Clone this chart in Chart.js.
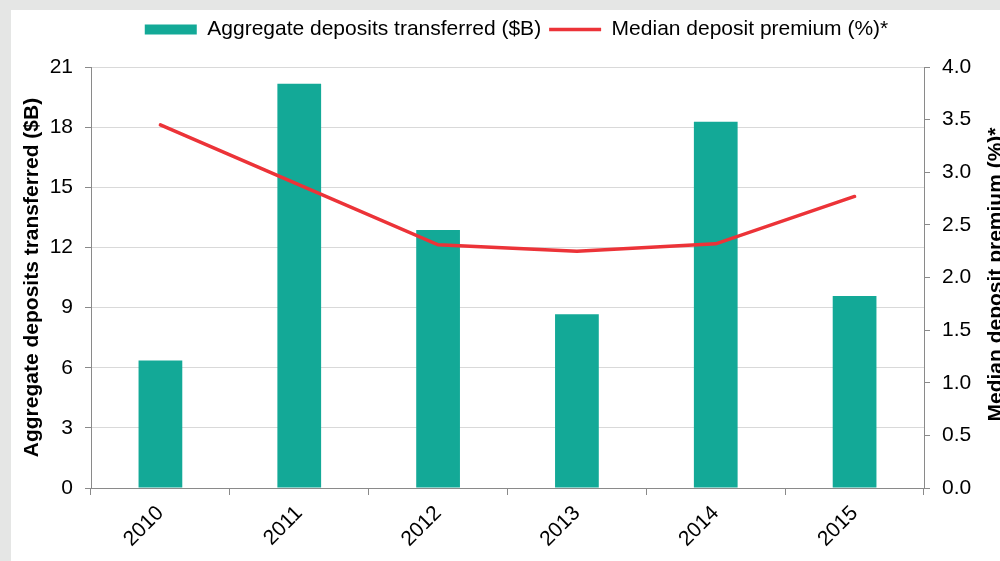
<!DOCTYPE html>
<html>
<head>
<meta charset="utf-8">
<script src="https://cdn.jsdelivr.net/npm/chart.js@4.4.0/dist/chart.umd.min.js"></script>
<style>
    html, body { margin: 0; padding: 0; overflow: hidden; }
    body { width: 1000px; height: 561px; background: #e5e6e5; position: relative; }
    #panel { position: absolute; left: 11px; top: 10px; width: 1011px; height: 560px; background: #fff; }
</style>
</head>
<body>
<div id="panel"><canvas id="graficoDepositos"></canvas></div>
<script>
const years = ["2010", "2011", "2012", "2013", "2014", "2015"];
const depositsTransferred = [6.36, 20.16, 12.87, 8.67, 18.27, 9.58];
const depositPremium = [3.45, 2.88, 2.31, 2.25, 2.32, 2.77];
const leftTicks = [0, 3, 6, 9, 12, 15, 18, 21];
const rightTicks = [0, 0.5, 1, 1.5, 2, 2.5, 3, 3.5, 4];

const teal = "#13a997";
const red = "#ec3338";
const axisGray = "#8a8a8a";

// right axis title reads bottom-to-top in the original, so draw it ourselves
const rightTitle = {
    id: "rightTitle",
    afterDraw: function(chart){
        const ctx = chart.ctx;
        const area = chart.chartArea;
        ctx.save();
        ctx.translate(area.right + 72, (area.top + area.bottom) / 2 - 3);
        ctx.rotate(-Math.PI / 2);
        ctx.font = "bold 21px 'Liberation Sans', Arial, sans-serif";
        ctx.fillStyle = "#000";
        ctx.textAlign = "center";
        ctx.textBaseline = "middle";
        ctx.fillText("Median deposit premium (%)*", 0, 0);
        ctx.restore();
    }
};

// extra room under the legend
const legendGap = {
    id: "legendGap",
    beforeInit: function(chart){
        const fit = chart.legend.fit;
        chart.legend.fit = function(){
            fit.bind(chart.legend)();
            this.height += 17;
        };
    }
};

Chart.defaults.font.family = "'Liberation Sans', Arial, sans-serif";
Chart.defaults.font.size = 21;
Chart.defaults.color = "#000";

const options = {
    responsive: true,
    maintainAspectRatio: false,
    animation: false,
    layout: {
        padding: { left: 0, right: 0, top: 1, bottom: 0 }
    },
    scales: {
        x: {
            grid: {
                offset: true,
                drawOnChartArea: false,
                tickLength: 7,
                tickColor: axisGray
            },
            border: { color: axisGray, width: 1 },
            ticks: {
                minRotation: 45,
                maxRotation: 45,
                padding: 6
            },
            afterFit: function(scale){ scale.height = 82; }
        },
        y: {
            position: "left",
            min: 0,
            max: 21,
            afterBuildTicks: function(scale){
                scale.ticks = leftTicks.map(v => ({ value: v }));
            },
            grid: {
                color: "#d9d9d9",
                lineWidth: 1,
                tickLength: 6,
                tickColor: axisGray
            },
            border: { color: axisGray, width: 1 },
            ticks: { padding: 12 },
            title: {
                display: true,
                text: "Aggregate deposits transferred ($B)",
                font: { weight: "bold", size: 21 },
                padding: { top: 9, bottom: 0 }
            },
            afterFit: function(scale){ scale.width = 80; }
        },
        y1: {
            position: "right",
            min: 0,
            max: 4,
            afterBuildTicks: function(scale){
                scale.ticks = rightTicks.map(v => ({ value: v }));
            },
            grid: {
                drawOnChartArea: false,
                tickLength: 6,
                tickColor: axisGray
            },
            border: { color: axisGray, width: 1 },
            ticks: {
                padding: 12,
                callback: function(value){ return Number(value).toFixed(1); }
            },
            afterFit: function(scale){ scale.width = 98; }
        }
    },
    plugins: {
        legend: {
            display: true,
            position: "top",
            labels: {
                usePointStyle: true,
                pointStyleWidth: 52,
                boxHeight: 10,
                padding: 8,
                sort: function(a, b){ return a.datasetIndex - b.datasetIndex; }
            }
        },
        tooltip: { enabled: false }
    }
};

new Chart(document.getElementById("graficoDepositos"), {
    type: "bar",
    plugins: [rightTitle, legendGap],
    data: {
        labels: years,
        datasets: [
            {
                label: "Aggregate deposits transferred ($B)",
                data: depositsTransferred,
                backgroundColor: teal,
                borderWidth: 0,
                pointStyle: "rect",
                barPercentage: 0.315,
                categoryPercentage: 1,
                yAxisID: "y",
                order: 2
            },
            {
                type: "line",
                label: "Median deposit premium (%)*",
                data: depositPremium,
                borderColor: red,
                backgroundColor: red,
                borderWidth: 3.5,
                borderCapStyle: "round",
                pointRadius: 0,
                pointStyle: "line",
                tension: 0,
                fill: false,
                yAxisID: "y1",
                order: 1
            }
        ]
    },
    options: options
});
</script>
</body>
</html>
